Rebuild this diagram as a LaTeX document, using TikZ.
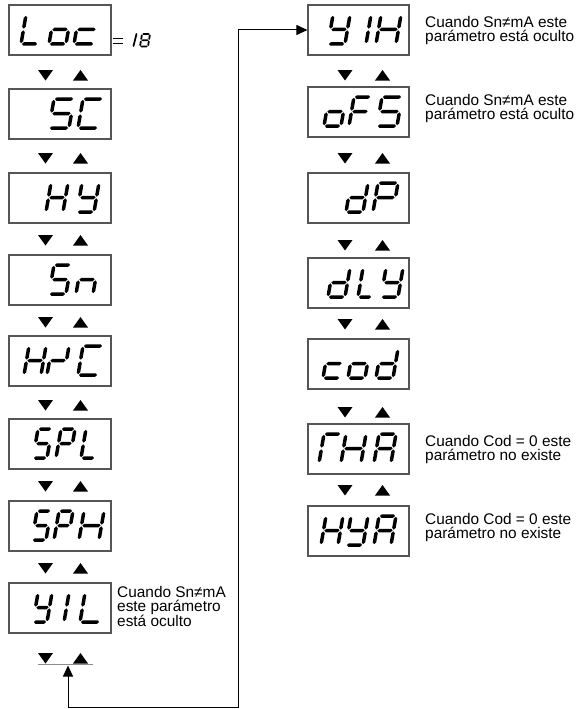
\documentclass[tikz,border=0pt]{standalone}
\usepackage{fontspec}
\setmainfont{Liberation Sans}
\usetikzlibrary{arrows.meta}
\definecolor{boxgray}{HTML}{555555}
\definecolor{bargray}{HTML}{8C8C8C}
\newcommand\sdW{17}
\newcommand\sdH{29}
\newcommand\sdS{5}
\newcommand\sdG{0.9}
\newcommand\sdT{1.75}
% horizontal hexagon segment: x1, x2, y
\newcommand\sdhex[3]{\fill[segfill] (#1,#3) -- ({#1+\sdT},{#3+\sdT}) -- ({#2-\sdT},{#3+\sdT}) -- (#2,#3) -- ({#2-\sdT},{#3-\sdT}) -- ({#1+\sdT},{#3-\sdT}) -- cycle;}
% vertical hexagon segment: x, y1, y2
\newcommand\sdvex[3]{\fill[segfill] (#1,#2) -- ({#1+\sdT},{#2+\sdT}) -- ({#1+\sdT},{#3-\sdT}) -- (#1,#3) -- ({#1-\sdT},{#3-\sdT}) -- ({#1-\sdT},{#2+\sdT}) -- cycle;}
\newcommand\sdsega{\sdhex{\sdG}{\sdW-\sdG}{\sdH}}
\newcommand\sdsegb{\sdvex{\sdW}{\sdH/2+\sdG}{\sdH-\sdG}}
\newcommand\sdsegc{\sdvex{\sdW}{\sdG}{\sdH/2-\sdG}}
\newcommand\sdsegd{\sdhex{\sdG}{\sdW-\sdG}{0}}
\newcommand\sdsege{\sdvex{0}{\sdG}{\sdH/2-\sdG}}
\newcommand\sdsegf{\sdvex{0}{\sdH/2+\sdG}{\sdH-\sdG}}
\newcommand\sdsegg{\sdhex{\sdG}{\sdW-\sdG}{\sdH/2}}
\newcommand\sdglyph[3]{\begin{scope}[shift={(#1,#2)},xslant=\sdS/\sdH,yscale=-1]\foreach \sg in #3{\csname sdseg\sg\endcsname}\end{scope}}
\newcommand\sdnarrow[3]{{\renewcommand\sdW{14}\sdglyph{#1}{#2}{#3}}}
\newcommand\sdwide[3]{{\renewcommand\sdW{20}\sdglyph{#1}{#2}{#3}}}
\newcommand\chL{d,e,f}
\newcommand\cho{c,d,e,g}
\newcommand\chc{d,e,g}
\newcommand\chS{a,c,d,f,g}
\newcommand\chC{a,d,e,f}
\newcommand\chH{b,c,e,f,g}
\newcommand\chY{b,c,d,f,g}
\newcommand\chn{c,e,g}
\newcommand\chsl{b,e,g}
\newcommand\chP{a,b,e,f,g}
\newcommand\chI{e,f}
\newcommand\chF{a,e,f,g}
\newcommand\chd{b,c,d,e,g}
\newcommand\chA{a,b,c,e,f,g}
\newcommand\chGam{a,e,f}
\newcommand\chE{a,b,c,d,e,f,g}
\newcommand\updown[3]{%
  \fill ({#1-7.5},#3) -- ({#1+7.5},#3) -- (#1,{#3+10.5}) -- cycle;
  \fill ({#2-7.5},{#3+10.5}) -- ({#2+7.5},{#3+10.5}) -- (#2,#3) -- cycle;}
\begin{document}
\begin{tikzpicture}[x=1pt,y=-1pt,
  segfill/.style={fill=black},
  dbox/.style={draw=boxgray,line width=1.2pt,minimum width=102pt,minimum height=50pt,inner sep=0pt},
  rbox/.style={dbox,minimum width=101pt},
  note/.style={font=\fontsize{15.4}{14}\selectfont,align=left,inner sep=0pt,anchor=north west},
  conn/.style={line width=1pt,black}]
\useasboundingbox (0,0) rectangle (578,709);
% left column boxes
\node[dbox] (l1) at (60,30) {};
\node[dbox] (l2) at (60,114) {};
\node[dbox] (l3) at (60,198) {};
\node[dbox] (l4) at (60,280) {};
\node[dbox] (l5) at (60,361) {};
\node[dbox] (l6) at (60,444) {};
\node[dbox] (l7) at (60,526) {};
\node[dbox] (l8) at (60,608) {};
% right column boxes
\node[rbox] (r1) at (358.5,30) {};
\node[rbox] (r2) at (358.5,112) {};
\node[rbox] (r3) at (358.5,198) {};
\node[rbox] (r4) at (358.5,283) {};
\node[rbox] (r5) at (358.5,364) {};
\node[rbox] (r6) at (358.5,449) {};
\node[rbox] (r7) at (358.5,531) {};
% left glyphs
\sdglyph{21}{44}{\chL}\sdglyph{49}{44}{\cho}\sdwide{74}{44}{\chc}
\sdwide{49}{128}{\chS}\sdwide{78}{128}{\chC}
\sdglyph{46}{212}{\chH}\sdglyph{77}{212}{\chY}
\sdglyph{49}{294}{\chS}\sdglyph{76}{294}{\chn}
\sdglyph{24}{375}{\chH}\sdglyph{47}{375}{\chsl}\sdwide{78}{375}{\chC}
\sdnarrow{33}{458}{\chS}\sdnarrow{56}{458}{\chP}\sdnarrow{81}{458}{\chL}
\sdnarrow{32}{540}{\chS}\sdnarrow{54}{540}{\chP}\sdwide{79}{540}{\chH}
\sdnarrow{33}{622}{\chY}\sdglyph{64}{622}{\chI}\sdwide{80}{622}{\chL}
% right glyphs
\sdglyph{328}{44}{\chY}\sdglyph{366}{44}{\chI}\sdwide{376}{44}{\chH}
\sdglyph{324}{126}{\cho}\sdglyph{349}{126}{\chF}\sdwide{377}{126}{\chS}
\sdglyph{346}{212}{\chd}\sdwide{373}{212}{\chP}
\sdglyph{328}{297}{\chd}\sdnarrow{358}{297}{\chL}\sdglyph{381}{297}{\chY}
\sdglyph{323}{378}{\chc}\sdglyph{348}{378}{\cho}\sdglyph{376}{378}{\chd}
\sdglyph{319}{463}{\chGam}\sdwide{341}{463}{\chH}\sdglyph{374}{463}{\chA}
\sdglyph{321}{545}{\chH}\sdglyph{346}{545}{\chY}\sdglyph{374}{545}{\chA}
% =18
\draw[line width=1.2pt] (113,38.5) -- (123,38.5) (113,43.5) -- (123,43.5);
\draw[line width=1.8pt,line cap=round] (133.5,46) -- (136.5,34);
{\renewcommand\sdW{8}\renewcommand\sdH{12.5}\renewcommand\sdS{2}\renewcommand\sdG{0.4}\renewcommand\sdT{0.9}%
 \sdglyph{140}{46.5}{\chE}}
% up/down markers
\updown{45.5}{80.5}{70}\updown{45.5}{80.5}{153}\updown{45.5}{80.5}{235}
\updown{45.5}{80.5}{317}\updown{45.5}{80.5}{400}\updown{45.5}{80.5}{481}
\updown{45.5}{80.5}{563}\updown{45.5}{80.5}{653}
\updown{345}{382.5}{70}\updown{345}{382.5}{153}\updown{345}{382.5}{240}
\updown{345}{382.5}{319}\updown{345}{382.5}{407}\updown{345}{382.5}{485}
% bar and connector
\coordinate (barL) at (38,664.5);
\coordinate (barR) at (93,664.5);
\coordinate (barpt) at (68,665.5);
\coordinate (turn) at (238,30);
\draw[bargray,line width=1pt] (barL) -- (barR);
\draw[conn,{Triangle[length=11pt,width=10pt]}-{Triangle[length=11pt,width=10pt]}] (barpt) -- ++(0,41.5) -| (turn) -- (r1.west);
% notes
\node[note] (n1) at (425,16) {Cuando Sn≠mA este\\parámetro está oculto};
\node[note] (n2) at (425,94) {Cuando Sn≠mA este\\parámetro está oculto};
\node[note] (n3) at (425,435) {Cuando Cod = 0 este\\parámetro no existe};
\node[note] (n4) at (425,513) {Cuando Cod = 0 este\\parámetro no existe};
\node[note] (n5) at (117,586) {Cuando Sn≠mA\\este parámetro\\está oculto};
\end{tikzpicture}
\end{document}
